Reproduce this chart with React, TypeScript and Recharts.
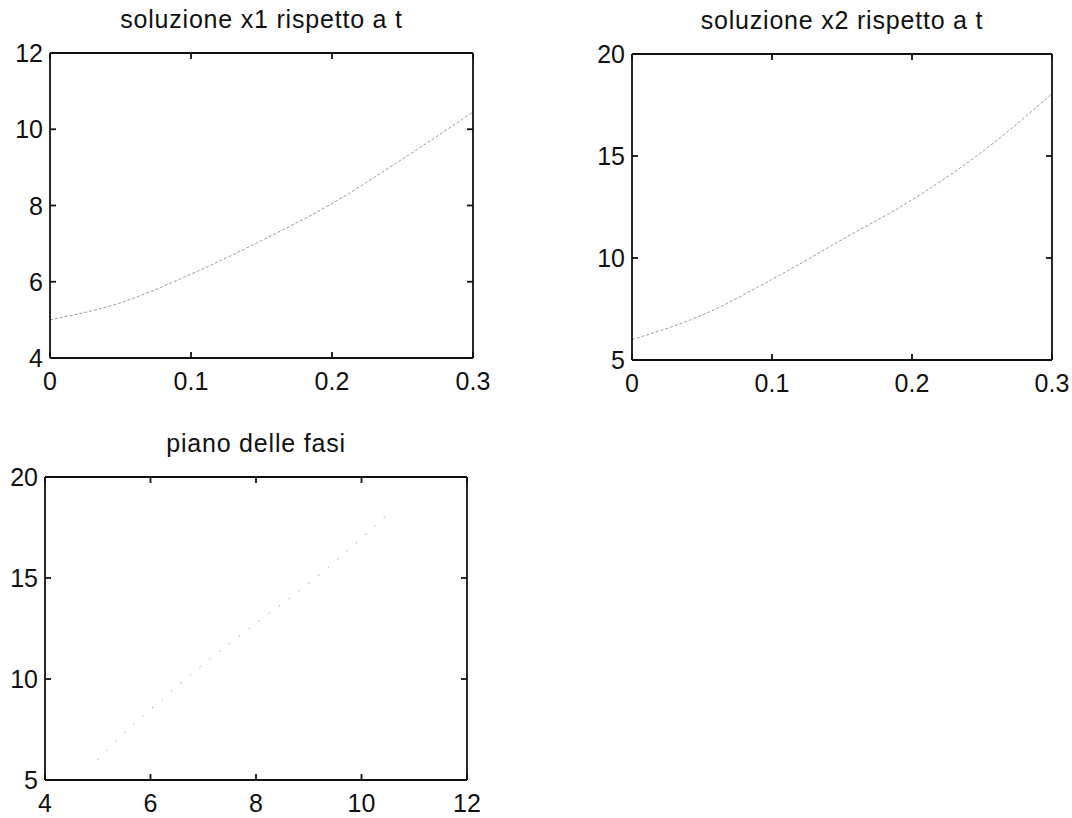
import React from 'react'
import { LineChart, Line, XAxis, YAxis } from 'recharts'

// tempi e soluzioni
const tValues = [0, 0.05, 0.1, 0.15, 0.2, 0.25, 0.3]
const x1Values = [5.0, 5.45, 6.2, 7.08, 8.05, 9.22, 10.45]
const x2Values = [6.0, 7.2, 8.95, 10.9, 12.85, 15.2, 18.05]

const tTicks = [0, 0.1, 0.2, 0.3]
const x1Ticks = [4, 6, 8, 10, 12]
const x2Ticks = [5, 10, 15, 20]

const FONT = '"Liberation Sans", Arial, sans-serif'
const FS = 25
const INK = '#111'
const LW = 1.8

const timeData = tValues.map((t, i) => ({ t, x1: x1Values[i], x2: x2Values[i] }))
const phaseData = x1Values.map((x1, i) => ({ x1, x2: x2Values[i] }))

const fmt = (v: number) => String(v)

function BottomTick(props: any) {
  const { x, y, payload } = props
  return (
    <g>
      <line x1={x} y1={y} x2={x} y2={y - 6} stroke={INK} strokeWidth={LW} />
      <text x={x} y={y + 32} textAnchor="middle" fontSize={FS} fontFamily={FONT} fill={INK}>
        {fmt(payload.value)}
      </text>
    </g>
  )
}

function LeftTick(props: any) {
  const { x, y, payload } = props
  return (
    <g>
      <line x1={x} y1={y} x2={x + 6} y2={y} stroke={INK} strokeWidth={LW} />
      <text x={x - 7} y={y + 9} textAnchor="end" fontSize={FS} fontFamily={FONT} fill={INK}>
        {fmt(payload.value)}
      </text>
    </g>
  )
}

function TopTick(props: any) {
  const { x, y } = props
  return <line x1={x} y1={y} x2={x} y2={y + 6} stroke={INK} strokeWidth={LW} />
}

function RightTick(props: any) {
  const { x, y } = props
  return <line x1={x} y1={y} x2={x - 6} y2={y} stroke={INK} strokeWidth={LW} />
}

interface PanelProps {
  left: number
  top: number
  w: number
  h: number
  title: string
  data: any[]
  xKey: string
  yKey: string
  xDomain: [number, number]
  yDomain: [number, number]
  xTicks: number[]
  yTicks: number[]
  dash: string
  color: string
}

function Panel(p: PanelProps) {
  const padX = 60
  const padY = 50
  const axisLine = { stroke: INK, strokeWidth: LW }
  return (
    <>
      <div
        style={{
          position: 'absolute',
          left: p.left - 20,
          top: p.top - 48,
          width: p.w + 40,
          textAlign: 'center',
          fontFamily: FONT,
          fontSize: FS,
          letterSpacing: 0.8,
          lineHeight: '28px',
          color: INK,
        }}
      >
        {p.title}
      </div>
      <div style={{ position: 'absolute', left: p.left - padX, top: p.top - padY }}>
        <LineChart
          width={p.w + padX * 2}
          height={p.h + padY * 2}
          data={p.data}
          margin={{ top: padY - 1, right: padX - 1, bottom: padY - 30, left: padX - 40 }}
        >
          <XAxis
            dataKey={p.xKey}
            type="number"
            domain={p.xDomain}
            ticks={p.xTicks}
            allowDataOverflow
            height={30}
            tickSize={0}
            tickMargin={0}
            tickLine={false}
            axisLine={axisLine}
            tick={<BottomTick />}
            interval={0}
          />
          <XAxis
            xAxisId="top"
            orientation="top"
            dataKey={p.xKey}
            type="number"
            domain={p.xDomain}
            ticks={p.xTicks}
            allowDataOverflow
            height={1}
            tickSize={0}
            tickMargin={0}
            tickLine={false}
            axisLine={axisLine}
            tick={<TopTick />}
            interval={0}
          />
          <YAxis
            type="number"
            domain={p.yDomain}
            ticks={p.yTicks}
            allowDataOverflow
            width={40}
            tickSize={0}
            tickMargin={0}
            tickLine={false}
            axisLine={axisLine}
            tick={<LeftTick />}
            interval={0}
          />
          <YAxis
            yAxisId="right"
            orientation="right"
            type="number"
            domain={p.yDomain}
            ticks={p.yTicks}
            allowDataOverflow
            width={1}
            tickSize={0}
            tickMargin={0}
            tickLine={false}
            axisLine={axisLine}
            tick={<RightTick />}
            interval={0}
          />
          <Line
            dataKey={p.yKey}
            type="monotone"
            stroke={p.color}
            strokeWidth={1}
            strokeDasharray={p.dash}
            dot={false}
            isAnimationActive={false}
          />
        </LineChart>
      </div>
    </>
  )
}

export default function App() {
  return (
    <div style={{ position: 'absolute', left: 0, top: 0, width: 1072, height: 818, background: '#fff' }}>
      <Panel
        left={50}
        top={53}
        w={423}
        h={305}
        title="soluzione x1 rispetto a t"
        data={timeData}
        xKey="t"
        yKey="x1"
        xDomain={[0, 0.3]}
        yDomain={[4, 12]}
        xTicks={tTicks}
        yTicks={x1Ticks}
        dash="3 2"
        color="#9a9a9a"
      />
      <Panel
        left={632}
        top={54}
        w={420}
        h={306}
        title="soluzione x2 rispetto a t"
        data={timeData}
        xKey="t"
        yKey="x2"
        xDomain={[0, 0.3]}
        yDomain={[5, 20]}
        xTicks={tTicks}
        yTicks={x2Ticks}
        dash="3 2"
        color="#9a9a9a"
      />
      <Panel
        left={45}
        top={477}
        w={422}
        h={303}
        title="piano delle fasi"
        data={phaseData}
        xKey="x1"
        yKey="x2"
        xDomain={[4, 12]}
        yDomain={[5, 20]}
        xTicks={x1Ticks}
        yTicks={x2Ticks}
        dash="1.5 11"
        color="#999"
      />
    </div>
  )
}
